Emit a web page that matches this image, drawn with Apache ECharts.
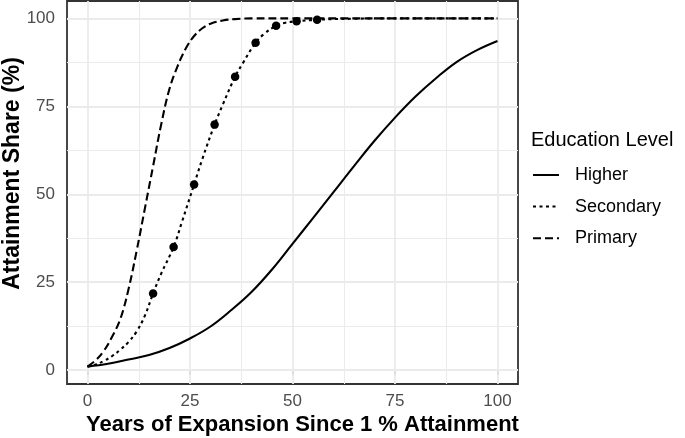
<!DOCTYPE html>
<html>
<head>
<meta charset="utf-8">
<script src="https://cdn.jsdelivr.net/npm/echarts@6/dist/echarts.min.js"></script>
<style>
html, body { margin: 0; padding: 0; background: #fff; }
#chart { width: 685px; height: 438px; }
</style>
</head>
<body>
<div id="chart"></div>
<script>
// curves
var higherX = [0, 5, 10, 15, 20, 25, 30, 35, 40, 45, 50, 55, 60, 65, 70, 75, 80, 85, 90, 95, 100];
var higherY = [1.0, 1.8, 3.0, 4.3, 6.3, 9.0, 12.4, 17.0, 22.2, 28.6, 35.9, 43.2, 50.6, 58.0, 65.2, 71.8, 77.8, 83.0, 87.6, 91.0, 93.6];

var secondaryX = [0, 2, 4, 6, 8, 10, 12, 14, 16, 18, 21, 23, 26, 28, 31, 33, 36, 38, 41, 43, 46, 48, 51, 56, 60, 65, 70, 100];
var secondaryY = [1, 1.6, 2.6, 4, 5.8, 8, 11, 15.5, 21.8, 27.5, 35, 42, 52.8, 60, 69.8, 75.5, 83.4, 87.5, 93.1, 95.5, 97.9, 98.7, 99.2, 99.6, 99.8, 99.9, 100, 100];

var primaryX = [0, 2, 4, 6, 8, 10, 12, 14, 16, 18, 20, 22, 24, 26, 28, 30, 33, 36, 40, 50, 100];
var primaryY = [1, 2.8, 5.5, 9.5, 14.5, 23, 34, 46, 58, 70, 80, 86.5, 91.5, 95, 97.2, 98.5, 99.4, 99.8, 100, 100, 100];

// observed points on the secondary curve
var pointX = [16, 21, 26, 31, 36, 41, 46, 51, 56];
var pointY = [21.8, 35.0, 52.8, 69.8, 83.4, 93.1, 97.9, 99.2, 99.6];

var tickValues = [0, 25, 50, 75, 100];
var minorValues = [12.5, 37.5, 62.5, 87.5];
var levelNames = ['Higher', 'Secondary', 'Primary'];

var FONT = '"Liberation Sans", Arial, Helvetica, sans-serif';

function pairs(xs, ys) {
	var out = [];
	for (var i = 0; i < xs.length; i++) {
		out.push([xs[i], ys[i]]);
	}
	return out;
}

function gridLines(values, axis, width) {
	return values.map(function (v) {
		var d = { lineStyle: { width: width } };
		d[axis] = v;
		return d;
	});
}

function curve(name, xs, ys, dash) {
	return {
		name: name, type: 'line', data: pairs(xs, ys),
		showSymbol: false, symbol: 'none', smooth: 0.4,
		lineStyle: { color: '#000', width: 2.1, type: dash }, itemStyle: { color: '#000' }, z: 3
	};
}

var chart = echarts.init(document.getElementById('chart'));

var option = {
	animation: false,
	backgroundColor: '#ffffff',
	textStyle: { fontFamily: FONT },
	grid: {
		left: 67, right: 167, top: 1, bottom: 54,
		outerBoundsMode: 'none', containLabel: false,
		show: true, borderColor: '#333333', borderWidth: 1.8,
		backgroundColor: '#ffffff'
	},
	title: {
		text: 'Education Level',
		left: 531, top: 130, padding: 0,
		textStyle: { fontFamily: FONT, fontSize: 20, fontWeight: 'normal', color: '#000' }
	},
	legend: {
		data: levelNames,
		orient: 'vertical',
		left: 532, top: 165, padding: 0,
		itemWidth: 26, itemHeight: 20, itemGap: 11.6,
		selectedMode: false,
		itemStyle: { opacity: 0 },
		textStyle: { fontFamily: FONT, fontSize: 18, color: '#000', lineHeight: 20, padding: [0, 0, 0, 11] }
	},
	xAxis: {
		type: 'value', min: -5, max: 105,
		name: 'Years of Expansion Since 1 % Attainment',
		nameLocation: 'middle', nameGap: 30, nameMoveOverlap: false,
		nameTextStyle: { fontFamily: FONT, fontSize: 22, fontWeight: 'bold', color: '#000', padding: [0, 0, 0, 20] },
		axisLine: { show: false },
		axisTick: { show: true, customValues: tickValues, length: 5, lineStyle: { color: '#333', width: 1.5 } },
		axisLabel: { customValues: tickValues, margin: 9, fontFamily: FONT, fontSize: 17, color: '#4d4d4d' },
		splitLine: { show: false }
	},
	yAxis: {
		type: 'value', min: -3.95, max: 104.95,
		name: 'Attainment Share (%)',
		nameLocation: 'middle', nameGap: 43, nameRotate: 90, nameMoveOverlap: false,
		nameTextStyle: { fontFamily: FONT, fontSize: 23, fontWeight: 'bold', color: '#000', padding: [0, 0, 0, 38] },
		axisLine: { show: false },
		axisTick: { show: true, customValues: tickValues, length: 5, lineStyle: { color: '#333', width: 1.5 } },
		axisLabel: { customValues: tickValues, margin: 12, fontFamily: FONT, fontSize: 17, color: '#4d4d4d' },
		splitLine: { show: false }
	},
	series: [
		{
			// panel grid lines
			name: 'grid', type: 'line', data: [], silent: true,
			markLine: {
				silent: true, symbol: 'none', z: 1, animation: false,
				label: { show: false },
				emphasis: { disabled: true },
				lineStyle: { color: '#ebebeb', type: 'solid' },
				data: gridLines(minorValues, 'xAxis', 1.1)
					.concat(gridLines(minorValues, 'yAxis', 1.1))
					.concat(gridLines(tickValues, 'xAxis', 1.8))
					.concat(gridLines(tickValues, 'yAxis', 1.8))
			}
		},
		curve('Higher', higherX, higherY, 'solid'),
		curve('Secondary', secondaryX, secondaryY, [3, 3.5]),
		curve('Primary', primaryX, primaryY, [8, 4]),
		{
			name: 'points', type: 'scatter', data: pairs(pointX, pointY),
			symbol: 'circle', symbolSize: 8.5, itemStyle: { color: '#000', opacity: 1 }, z: 4, silent: true
		}
	]
};

chart.setOption(option);
</script>
</body>
</html>
